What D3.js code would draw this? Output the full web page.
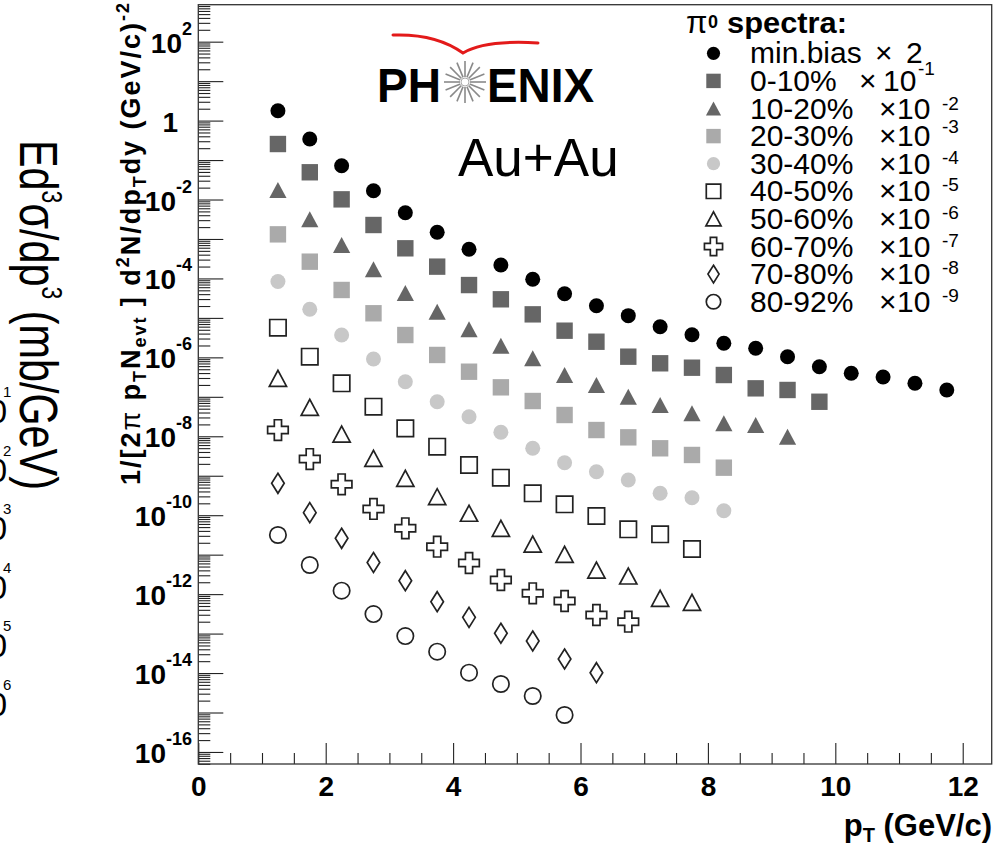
<!DOCTYPE html>
<html><head><meta charset="utf-8">
<script src="https://cdn.jsdelivr.net/npm/d3@7"></script>
<style>body{margin:0;background:#fff}svg{display:block}</style>
</head><body>
<svg id="c" width="996" height="846"></svg>
<script>
// ---------- data ----------
const pT = [1.25,1.75,2.25,2.75,3.25,3.75,4.25,4.75,5.25,5.75,6.25,6.75,7.25,7.75,8.25,8.75,9.25,9.75,10.25,10.75,11.25,11.75];
const seriesNames = ["min.bias","0-10%","10-20%","20-30%","30-40%","40-50%","50-60%","60-70%","70-80%","80-92%"];
const scaleBase = ["2","10","10","10","10","10","10","10","10","10"];
const scaleExp  = ["","-1","-2","-3","-4","-5","-6","-7","-8","-9"];
const markerTypes = ["circle","square","triangle","square","circle","osquare","otriangle","ocross","odiamond","ocircle"];
const markerColors = ["#000000","#666666","#666666","#aaaaaa","#c8c8c8","#222222","#222222","#222222","#222222","#222222"];

const minBias = [1.78,0.342,0.072,0.0167,4.63e-3,1.48e-3,5.47e-4,2.19e-4,9.5e-5,4.1e-5,2.04e-5,1.14e-5,5.98e-6,3.75e-6,2.27e-6,1.70e-6,1.04e-6,5.8e-7,3.94e-7,3.18e-7,2.2e-7,1.49e-7];
const c0_10  = [0.255,0.049,0.0101,2.26e-3,5.8e-4,1.99e-4,6.8e-5,2.96e-5,1.23e-5,4.74e-6,2.49e-6,1.04e-6,7.07e-7,5.47e-7,3.57e-7,1.64e-7,1.49e-7,7.5e-8];
const c10_20 = [0.0174,3.16e-3,7.05e-4,1.71e-4,4.28e-5,1.44e-5,5.14e-6,1.98e-6,9.47e-7,3.57e-7,2.0e-7,1.01e-7,6.2e-8,3.82e-8,2.13e-8,1.93e-8,9.76e-9];
const c20_30 = [1.31e-3,2.66e-4,5.1e-5,1.31e-5,3.68e-6,1.15e-6,4.33e-7,1.74e-7,7.83e-8,3.46e-8,1.44e-8,9.4e-9,4.96e-9,3.36e-9,1.6e-9];
const c30_40 = [8.36e-5,1.65e-5,3.68e-6,9.08e-7,2.41e-7,7.5e-8,3.13e-8,1.26e-8,4.96e-9,2.14e-9,1.26e-9,7.79e-10,3.59e-10,2.77e-10,1.3e-10];
const c40_50 = [5.65e-6,1.04e-6,2.2e-7,5.62e-8,1.59e-8,5.45e-9,1.87e-9,8.91e-10,3.59e-10,1.89e-10,9.54e-11,4.39e-11,3.28e-11,1.39e-11];
const c50_60 = [2.95e-7,5.42e-8,1.14e-8,2.77e-9,8.61e-10,2.94e-10,1.12e-10,4.66e-11,1.86e-11,1.02e-11,4.08e-12,2.88e-12,7.83e-13,6.2e-13];
const c60_70 = [1.44e-8,2.65e-9,6.07e-10,1.44e-10,4.66e-11,1.59e-11,6.15e-12,2.28e-12,1.05e-12,6.7e-13,2.96e-13,2.0e-13];
const c70_80 = [6.43e-10,1.16e-10,2.6e-11,6.33e-12,2.19e-12,6.43e-13,2.58e-13,1.02e-13,6.49e-14,2.27e-14,1.02e-14];
const c80_92 = [3.15e-11,5.47e-12,1.22e-12,3.13e-13,8.67e-14,3.47e-14,1.02e-14,5.28e-15,2.62e-15,8.65e-16];
const seriesValues = [minBias,c0_10,c10_20,c20_30,c30_40,c40_50,c50_60,c60_70,c70_80,c80_92];

const xTicks = [0,2,4,6,8,10,12];
const yTickExp = [2,0,-2,-4,-6,-8,-10,-12,-14,-16];
const strayExp = ["1","2","3","4","5","6"];

// ---------- setup ----------
const FONT = "'Liberation Sans', Arial, Helvetica, sans-serif";
const svg = d3.select("#c").style("font-family", FONT);
const X0 = 198.3, X1 = 991.7, Y0 = 764, Y1 = 4.7;
const x = d3.scaleLinear().domain([0, 12.455]).range([X0, X1]);
const y = d3.scaleLog().domain([Math.pow(10,-16.305), Math.pow(10,2.937)]).range([Y0, Y1]);

// ---------- stray left elements (cut-off neighbouring panel) ----------
const stray = svg.append("g");
stray.append("text")
  .attr("transform","translate(20,140) rotate(90)")
  .attr("font-size",54).attr("textLength",350).attr("lengthAdjust","spacingAndGlyphs")
  .call(t=>{
    t.append("tspan").text("Ed");
    t.append("tspan").attr("font-size",30).attr("dy",-22).text("3");
    t.append("tspan").attr("dy",22).text("σ/dp");
    t.append("tspan").attr("font-size",30).attr("dy",-22).text("3");
    t.append("tspan").attr("dy",22).text(" (mb/GeV)");
  });
strayExp.forEach((e,i)=>{
  const yy = 392 + i*58.5;
  stray.append("text").attr("x",7).attr("y",yy+31).attr("text-anchor","end").attr("font-size",33).text("10");
  stray.append("text").attr("x",3).attr("y",yy+5).attr("font-size",15).text(e);
});

// ---------- axes ----------
const gx = svg.append("g").attr("transform",`translate(0,${Y0})`)
  .call(d3.axisBottom(x).tickValues(xTicks).tickSizeInner(-21).tickSizeOuter(0).tickPadding(12).tickFormat(d3.format("d")));
const xMinor = d3.range(0.5, 12.3, 0.5).filter(v => Math.abs(v/2 - Math.round(v/2)) > 1e-9);
svg.append("g").attr("transform",`translate(0,${Y0})`)
  .call(d3.axisBottom(x).tickValues(xMinor).tickSizeInner(-11).tickSizeOuter(0).tickFormat(""));
gx.selectAll("text").attr("font-size",28).attr("font-weight","bold").attr("fill","#000").attr("font-family",FONT);

const yMajor = d3.range(-16, 3).map(k => Math.pow(10,k));
const yMinor = [];
for (let k=-17; k<=2; k++) for (let m=2; m<=9; m++) { const v = m*Math.pow(10,k); if (v>y.domain()[0] && v<y.domain()[1]) yMinor.push(v); }
svg.append("g").attr("transform",`translate(${X0},0)`)
  .call(d3.axisLeft(y).tickValues(yMajor).tickSizeInner(-25).tickSizeOuter(0).tickFormat(""));
svg.append("g").attr("transform",`translate(${X0},0)`)
  .call(d3.axisLeft(y).tickValues(yMinor).tickSizeInner(-12).tickSizeOuter(0).tickFormat(""));
svg.selectAll(".domain").remove();
svg.selectAll(".tick line").attr("stroke","#222").attr("stroke-width",1.1);

// y tick labels
yTickExp.forEach(k=>{
  const yy = y(Math.pow(10,k));
  if (k===0) {
    svg.append("text").attr("x",178).attr("y",yy+11).attr("text-anchor","end")
      .attr("font-size",28).attr("font-weight","bold").text("1");
  } else {
    const t = svg.append("text").attr("x",192).attr("y",yy+11).attr("text-anchor","end")
      .attr("font-size",28).attr("font-weight","bold");
    t.append("tspan").text("10");
    t.append("tspan").attr("font-size",18).attr("dy",-18).text(String(k));
  }
});

// frame
svg.append("rect").attr("x",X0).attr("y",Y1).attr("width",X1-X0).attr("height",Y0-Y1)
  .attr("fill","none").attr("stroke","#333").attr("stroke-width",1.3);

// axis titles
const xt = svg.append("text").attr("x",992).attr("y",836).attr("text-anchor","end")
  .attr("font-size",31).attr("font-weight","bold");
xt.append("tspan").text("p");
xt.append("tspan").attr("font-size",20).attr("dy",6).text("T");
xt.append("tspan").attr("dy",-6).text(" (GeV/c)");

const yt = svg.append("text").attr("transform","translate(140,485) rotate(-90)")
  .attr("font-size",27).attr("font-weight","bold").attr("textLength",482).attr("lengthAdjust","spacing");
yt.append("tspan").text("1/[2");
yt.append("tspan").attr("font-weight","normal").text("π");
yt.append("tspan").text(" p");
yt.append("tspan").attr("font-size",18).attr("dy",6).text("T");
yt.append("tspan").attr("dy",-6).text("N");
yt.append("tspan").attr("font-size",18).attr("dy",6).text("evt");
yt.append("tspan").attr("dy",-6).text(" ] d");
yt.append("tspan").attr("font-size",18).attr("dy",-11).text("2");
yt.append("tspan").attr("dy",11).text("N/dp");
yt.append("tspan").attr("font-size",18).attr("dy",6).text("T");
yt.append("tspan").attr("dy",-6).text("dy (GeV/c)");
yt.append("tspan").attr("font-size",18).attr("dy",-11).text("-2");

// ---------- markers ----------
function markerPath(type, s) {
  const c = (r)=>`M${r},0A${r},${r} 0 1,1 ${-r},0A${r},${r} 0 1,1 ${r},0Z`;
  switch(type){
    case "circle": return c(7.5*s);
    case "ocircle": return c(8.2*s);
    case "square": case "osquare": { const h=8.2*s; return `M${-h},${-h}H${h}V${h}H${-h}Z`; }
    case "triangle": case "otriangle": { const w=8.6*s, h=8*s; return `M${-w},${h}L${w},${h}L0,${-h}Z`; }
    case "odiamond": { const w=6.3*s, h=10*s; return `M0,${-h}L${w},0L0,${h}L${-w},0Z`; }
    case "ocross": { const m=10.3*s, a=3.6*s;
      return `M${-a},${-m}H${a}V${-a}H${m}V${a}H${a}V${m}H${-a}V${a}H${-m}V${-a}H${-a}Z`; }
  }
}
function styleMarker(sel, i) {
  const t = markerTypes[i];
  if (t.startsWith("o")) sel.attr("fill","#fff").attr("stroke",markerColors[i]).attr("stroke-width",1.7);
  else sel.attr("fill",markerColors[i]).attr("stroke","none");
}
const plot = svg.append("g");
seriesValues.forEach((vals, i)=>{
  plot.append("g").selectAll("path").data(vals).join("path")
    .attr("transform",(d,j)=>`translate(${x(pT[j])},${y(d)})`)
    .attr("d", markerPath(markerTypes[i],1))
    .call(sel=>styleMarker(sel,i));
});

// ---------- logo & label ----------
const logo = svg.append("g");
logo.append("path").attr("d","M393,35 C420,34 445,40 463,53 C478,44 505,41 538,43")
  .attr("fill","none").attr("stroke","#e31a1a").attr("stroke-width",3).attr("stroke-linecap","round");
logo.append("text").attr("x",377).attr("y",102).attr("font-size",49).attr("font-weight","bold")
  .attr("textLength",64).attr("lengthAdjust","spacingAndGlyphs").text("PH");
logo.append("text").attr("x",487).attr("y",102).attr("font-size",49).attr("font-weight","bold")
  .attr("textLength",107).attr("lengthAdjust","spacingAndGlyphs").text("ENIX");
const cx=465, cy=82;
d3.range(16).forEach(k=>{
  const a = k*Math.PI/8;
  logo.append("line").attr("x1",cx+5*Math.cos(a)).attr("y1",cy+5*Math.sin(a))
    .attr("x2",cx+21*Math.cos(a)).attr("y2",cy+21*Math.sin(a))
    .attr("stroke","#8a8a8a").attr("stroke-width",1.6);
});
logo.append("circle").attr("cx",cx).attr("cy",cy).attr("r",4).attr("fill","#fff").attr("stroke","#aaa").attr("stroke-width",1);

svg.append("text").attr("x",458).attr("y",175.5).attr("font-size",53).text("Au+Au");

// ---------- legend ----------
const lg = svg.append("g").attr("font-size",30);
lg.append("text").attr("x",686).attr("y",33).attr("font-size",31).text("π");
lg.append("text").attr("x",708).attr("y",28).attr("font-size",18).attr("font-weight","bold").text("0");
lg.append("text").attr("x",727).attr("y",33).attr("font-weight","bold")
  .attr("textLength",120).attr("lengthAdjust","spacingAndGlyphs").text("spectra:");
seriesNames.forEach((name,i)=>{
  const yy = 53.3 + 27.6*i;
  lg.append("path").attr("transform",`translate(713.5,${yy})`).attr("d",markerPath(markerTypes[i],0.88))
    .call(sel=>styleMarker(sel,i));
  lg.append("text").attr("x",750).attr("y",yy+10).text(name);
  if (i===0) {
    lg.append("text").attr("x",875).attr("y",yy+10).text("×");
    lg.append("text").attr("x",906).attr("y",yy+10).text(scaleBase[i]);
  } else if (i===1) {
    lg.append("text").attr("x",859).attr("y",yy+10).text("×");
    lg.append("text").attr("x",883).attr("y",yy+10).text(scaleBase[i]);
    lg.append("text").attr("x",918).attr("y",yy-6).attr("font-size",19).text(scaleExp[i]);
  } else {
    lg.append("text").attr("x",879).attr("y",yy+10).text("×");
    lg.append("text").attr("x",897).attr("y",yy+10).text(scaleBase[i]);
    lg.append("text").attr("x",942).attr("y",yy+(i===2?1.5:(i===3?-3:0))).attr("font-size",19).text(scaleExp[i]);
  }
});
</script>
</body></html>
